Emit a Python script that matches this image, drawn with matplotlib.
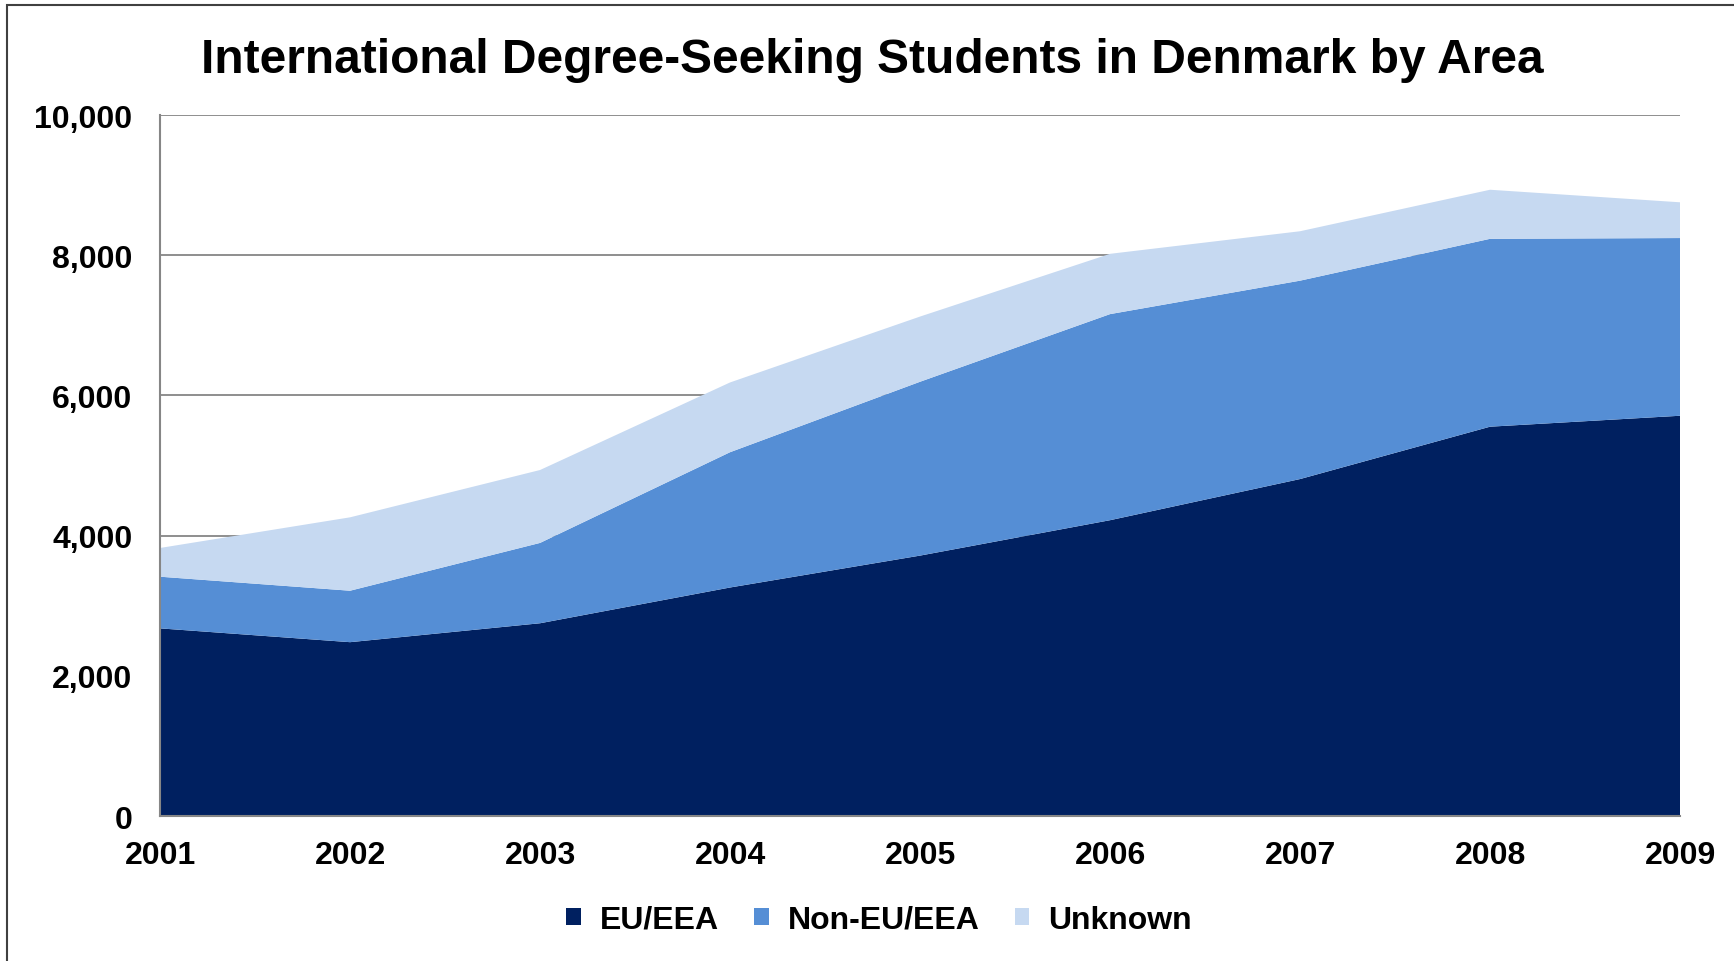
import numpy as np
import matplotlib
matplotlib.use('Agg')
import matplotlib.pyplot as plt
from matplotlib.patches import Rectangle
from matplotlib.ticker import FuncFormatter

'''
Stacked area chart: international degree-seeking students in Denmark
'''

years = [2001, 2002, 2003, 2004, 2005, 2006, 2007, 2008, 2009]
eu_eea = [2677, 2480, 2750, 3260, 3715, 4220, 4807, 5554, 5710]
non_eu_eea = [737, 734, 1146, 1930, 2480, 2940, 2830, 2680, 2535]
unknown = [410, 1047, 1040, 995, 930, 860, 705, 700, 510]

labels = ['EU/EEA', 'Non-EU/EEA', 'Unknown']
colors = ['#002060', '#558ED5', '#C6D9F1']

plt.rcParams['font.family'] = ['Liberation Sans', 'DejaVu Sans']
plt.rcParams['font.weight'] = 'bold'

fig = plt.figure(figsize=(17.34, 9.62), dpi=100)
ax = fig.add_axes([0.0923, 0.1507, 0.8766, 0.7287])

ax.stackplot(years, eu_eea, non_eu_eea, unknown, colors=colors, labels=labels,
             linewidth=0, zorder=2)

ax.set_xlim(years[0], years[-1])
ax.set_ylim(0, 10000)
ax.set_yticks(np.arange(0, 10001, 2000))
ax.set_xticks(years)
ax.yaxis.set_major_formatter(FuncFormatter(lambda v, p: '{:,.0f}'.format(v)))
ax.grid(axis='y', color='#868686', linewidth=1.3, zorder=1)
ax.set_axisbelow(True)
ax.tick_params(axis='both', length=0, labelsize=23)
ax.tick_params(axis='y', pad=20)
ax.tick_params(axis='x', pad=17)
for lab in ax.get_xticklabels() + ax.get_yticklabels():
    lab.set_fontweight('bold')

for s in ['top', 'right']:
    ax.spines[s].set_visible(False)
for s in ['left', 'bottom']:
    ax.spines[s].set_color('#868686')
    ax.spines[s].set_linewidth(1.5)
    ax.spines[s].set_zorder(3)

fig.suptitle('International Degree-Seeking Students in Denmark by Area',
             x=0.503, y=0.937, va='center', fontsize=34.5, fontweight='bold')

fig.legend(loc='center', bbox_to_anchor=(0.507, 0.043), ncol=3, frameon=False,
           handlelength=0.45, handleheight=0.45,
           handletextpad=0.6, columnspacing=1.1,
           prop={'weight': 'bold', 'size': 23})

# outer chart border (left and top edges visible)
fig.patches.append(Rectangle((0.004, -0.05), 1.2, 1.0438, transform=fig.transFigure,
                             fill=False, edgecolor='#404040', linewidth=1.5))

fig.savefig('out.png', dpi=100)
